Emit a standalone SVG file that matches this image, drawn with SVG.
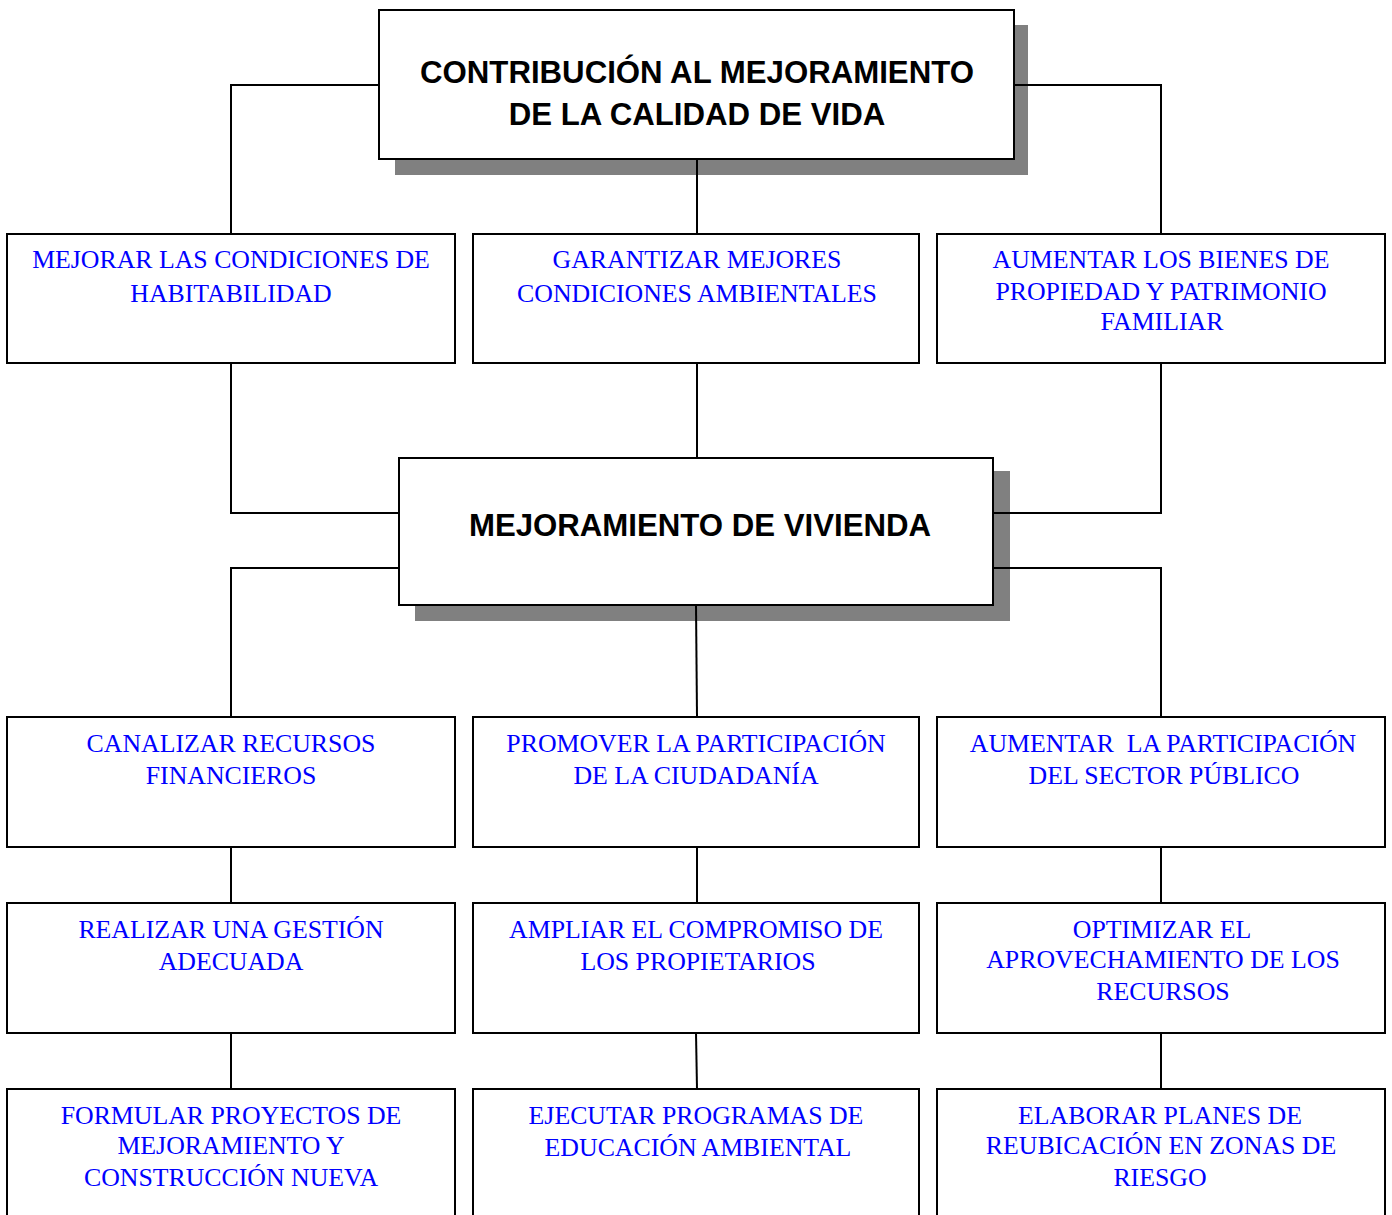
<svg xmlns="http://www.w3.org/2000/svg" width="1392" height="1215" viewBox="0 0 1392 1215">
<style>
.box{fill:#fff;stroke:#000;stroke-width:2}
.shadow{fill:#808080}
.conn{fill:none;stroke:#000;stroke-width:2}
.h{font-family:"Liberation Sans",Arial,sans-serif;font-weight:bold;font-size:31.2px;fill:#000;text-anchor:middle}
.t{font-family:"Liberation Serif","Times New Roman",serif;font-size:25.8px;fill:#0000ff;text-anchor:middle;white-space:pre}
</style>
<rect width="1392" height="1215" fill="#fff"/>
<g id="n-top">
<rect class="shadow" x="395" y="25" width="633" height="150"/>
<rect class="box" x="379" y="10" width="635" height="149"/>
<text class="h" x="697" y="83">CONTRIBUCIÓN AL MEJORAMIENTO</text>
<text class="h" x="697" y="125">DE LA CALIDAD DE VIDA</text>
</g>
<g id="n-habitabilidad">
<rect class="box" x="7" y="234" width="448" height="129"/>
<text class="t" x="231" y="268">MEJORAR LAS CONDICIONES DE</text>
<text class="t" x="231" y="302">HABITABILIDAD</text>
</g>
<g id="n-ambientales">
<rect class="box" x="473" y="234" width="446" height="129"/>
<text class="t" x="697" y="268">GARANTIZAR MEJORES</text>
<text class="t" x="697" y="302">CONDICIONES AMBIENTALES</text>
</g>
<g id="n-bienes">
<rect class="box" x="937" y="234" width="448" height="129"/>
<text class="t" x="1161" y="268">AUMENTAR LOS BIENES DE</text>
<text class="t" x="1161" y="300">PROPIEDAD Y PATRIMONIO</text>
<text class="t" x="1162" y="330">FAMILIAR</text>
</g>
<g id="n-vivienda">
<rect class="shadow" x="415" y="471" width="595" height="150"/>
<rect class="box" x="399" y="458" width="594" height="147"/>
<text class="h" x="700" y="536">MEJORAMIENTO DE VIVIENDA</text>
</g>
<g id="n-canalizar">
<rect class="box" x="7" y="717" width="448" height="130"/>
<text class="t" x="231" y="752">CANALIZAR RECURSOS</text>
<text class="t" x="231" y="784">FINANCIEROS</text>
</g>
<g id="n-promover">
<rect class="box" x="473" y="717" width="446" height="130"/>
<text class="t" x="696" y="752">PROMOVER LA PARTICIPACIÓN</text>
<text class="t" x="696" y="784">DE LA CIUDADANÍA</text>
</g>
<g id="n-aumentar">
<rect class="box" x="937" y="717" width="448" height="130"/>
<text class="t" x="1163" y="752">AUMENTAR  LA PARTICIPACIÓN</text>
<text class="t" x="1164" y="784">DEL SECTOR PÚBLICO</text>
</g>
<g id="n-gestion">
<rect class="box" x="7" y="903" width="448" height="130"/>
<text class="t" x="231" y="938">REALIZAR UNA GESTIÓN</text>
<text class="t" x="231" y="970">ADECUADA</text>
</g>
<g id="n-compromiso">
<rect class="box" x="473" y="903" width="446" height="130"/>
<text class="t" x="696" y="938">AMPLIAR EL COMPROMISO DE</text>
<text class="t" x="698" y="970">LOS PROPIETARIOS</text>
</g>
<g id="n-optimizar">
<rect class="box" x="937" y="903" width="448" height="130"/>
<text class="t" x="1162" y="938">OPTIMIZAR EL</text>
<text class="t" x="1163" y="968">APROVECHAMIENTO DE LOS</text>
<text class="t" x="1163" y="1000">RECURSOS</text>
</g>
<g id="n-formular">
<rect class="box" x="7" y="1089" width="448" height="140"/>
<text class="t" x="231" y="1124">FORMULAR PROYECTOS DE</text>
<text class="t" x="231" y="1154">MEJORAMIENTO Y</text>
<text class="t" x="231" y="1186">CONSTRUCCIÓN NUEVA</text>
</g>
<g id="n-ejecutar">
<rect class="box" x="473" y="1089" width="446" height="140"/>
<text class="t" x="696" y="1124">EJECUTAR PROGRAMAS DE</text>
<text class="t" x="698" y="1156">EDUCACIÓN AMBIENTAL</text>
</g>
<g id="n-elaborar">
<rect class="box" x="937" y="1089" width="448" height="140"/>
<text class="t" x="1160" y="1124">ELABORAR PLANES DE</text>
<text class="t" x="1161" y="1154">REUBICACIÓN EN ZONAS DE</text>
<text class="t" x="1160" y="1186">RIESGO</text>
</g>
<g id="connectors">
<polyline class="conn" points="379,85 231,85 231,234"/>
<polyline class="conn" points="1014,85 1161,85 1161,234"/>
<line class="conn" x1="697" y1="159" x2="697" y2="234"/>
<polyline class="conn" points="231,363 231,513 399,513"/>
<line class="conn" x1="697" y1="363" x2="697" y2="458"/>
<polyline class="conn" points="1161,363 1161,513 993,513"/>
<polyline class="conn" points="399,568 231,568 231,717"/>
<polyline class="conn" points="993,568 1161,568 1161,717"/>
<line class="conn" x1="696" y1="605" x2="697" y2="717"/>
<line class="conn" x1="231" y1="847" x2="231" y2="903"/>
<line class="conn" x1="697" y1="847" x2="697" y2="903"/>
<line class="conn" x1="1161" y1="847" x2="1161" y2="903"/>
<line class="conn" x1="231" y1="1033" x2="231" y2="1089"/>
<line class="conn" x1="696" y1="1033" x2="697" y2="1089"/>
<line class="conn" x1="1161" y1="1033" x2="1161" y2="1089"/>
</g>
</svg>
